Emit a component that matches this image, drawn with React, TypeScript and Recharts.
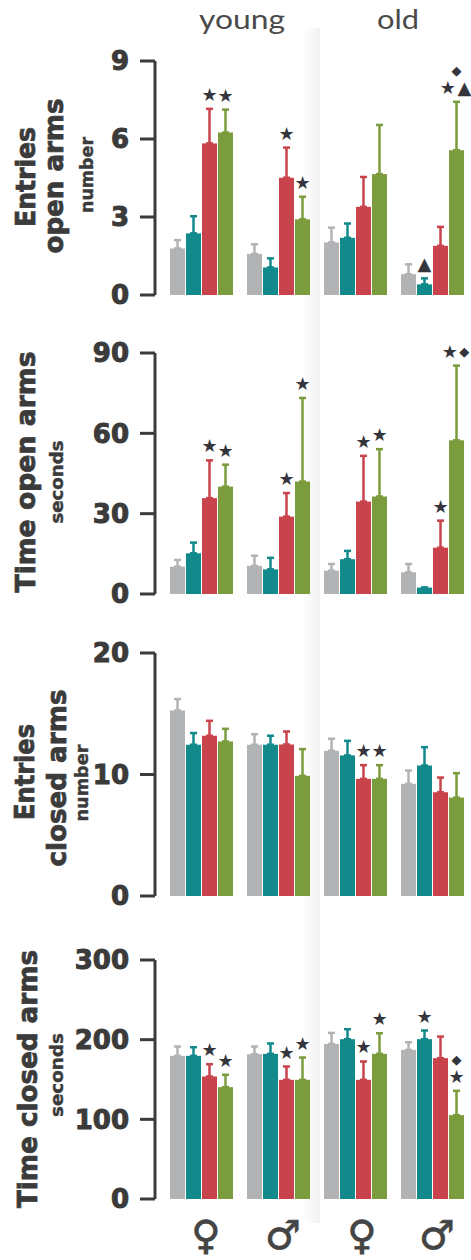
import React from "react";
import { BarChart, Bar, XAxis, YAxis, ErrorBar } from "recharts";

const GROUPS = ["young ♀", "young ♂", "old ♀", "old ♂"];
const COLORS = ["#b1b3b5", "#128a8b", "#c9434d", "#7b9c3d"];
const INK = "#3b3b3b";

// Entries open arms (number)
const entriesOpenMean = [
  [1.79, 2.37, 5.83, 6.25],
  [1.58, 1.06, 4.51, 2.91],
  [2.02, 2.2, 3.39, 4.65],
  [0.8, 0.41, 1.89, 5.57],
];
const entriesOpenErr = [
  [0.32, 0.66, 1.33, 0.88],
  [0.37, 0.35, 1.16, 0.87],
  [0.57, 0.55, 1.15, 1.89],
  [0.38, 0.23, 0.73, 1.86],
];
const entriesOpenMarks = [
  ["", "", "★", "★"],
  ["", "", "★", "★"],
  ["", "", "", ""],
  ["", "▲", "", "◆|★ ▲"],
];

// Time open arms (seconds)
const timeOpenMean = [
  [10.2, 15.2, 35.8, 40.1],
  [10.5, 9.2, 28.9, 42.0],
  [8.7, 13.0, 34.5, 36.4],
  [8.1, 2.4, 17.3, 57.4],
];
const timeOpenErr = [
  [2.5, 4.0, 14.1, 8.2],
  [3.8, 4.3, 8.8, 31.2],
  [2.5, 3.1, 17.1, 17.7],
  [3.1, 0, 10.1, 27.9],
];
const timeOpenMarks = [
  ["", "", "★", "★"],
  ["", "", "★", "★"],
  ["", "", "★", "★"],
  ["", "", "★", "★ ◆"],
];

// Entries closed arms (number)
const entriesClosedMean = [
  [15.27, 12.45, 13.19, 12.72],
  [12.45, 12.45, 12.47, 9.89],
  [11.95, 11.57, 9.64, 9.64],
  [9.23, 10.74, 8.54, 8.1],
];
const entriesClosedErr = [
  [0.94, 0.96, 1.23, 1.04],
  [0.87, 0.74, 1.07, 2.2],
  [0.99, 1.2, 1.13, 1.13],
  [1.1, 1.51, 1.21, 2.01],
];
const entriesClosedMarks = [
  ["", "", "", ""],
  ["", "", "", ""],
  ["", "", "★", "★"],
  ["", "", "", ""],
];

// Time closed arms (seconds)
const timeClosedMean = [
  [179.7, 179.7, 153.8, 140.4],
  [181.8, 182.2, 149.6, 149.6],
  [194.7, 200.6, 149.6, 182.2],
  [187.2, 200.6, 176.8, 105.3],
];
const timeClosedErr = [
  [11.7, 10.8, 15.4, 15.5],
  [9.6, 13, 16.7, 28],
  [13.8, 12.5, 23, 25.9],
  [9.6, 10.9, 27.1, 30.5],
];
const timeClosedMarks = [
  ["", "", "★", "★"],
  ["", "", "★", "★"],
  ["", "", "★", "★"],
  ["", "★", "", "◆|★"],
];

const PANELS = [
  { top: 61, zero: 295, max: 9, ticks: [0, 3, 6, 9], mean: entriesOpenMean, err: entriesOpenErr, marks: entriesOpenMarks },
  { top: 353, zero: 594, max: 90, ticks: [0, 30, 60, 90], mean: timeOpenMean, err: timeOpenErr, marks: timeOpenMarks },
  { top: 653, zero: 896, max: 20, ticks: [0, 10, 20], mean: entriesClosedMean, err: entriesClosedErr, marks: entriesClosedMarks },
  { top: 960, zero: 1199, max: 300, ticks: [0, 100, 200, 300], mean: timeClosedMean, err: timeClosedErr, marks: timeClosedMarks },
];

const TITLES = [
  { text: "Entries", x: 35, cy: 177, len: 100, size: 26 },
  { text: "open arms", x: 63, cy: 176, len: 155, size: 26 },
  { text: "number", x: 93, cy: 175, len: 76, size: 17 },
  { text: "Time open arms", x: 35, cy: 472, len: 241, size: 26 },
  { text: "seconds", x: 63, cy: 482, len: 83, size: 17 },
  { text: "Entries", x: 34, cy: 772, len: 96, size: 26 },
  { text: "closed arms", x: 66, cy: 778, len: 177, size: 26 },
  { text: "number", x: 88, cy: 783, len: 77, size: 17 },
  { text: "Time closed arms", x: 37, cy: 1079, len: 258, size: 26 },
  { text: "seconds", x: 63, cy: 1075, len: 84, size: 17 },
];

const SEX = [
  { s: "♀", x: 206 },
  { s: "♂", x: 283 },
  { s: "♀", x: 362 },
  { s: "♂", x: 437 },
];

const MARGIN_TOP = 26;
const MARGIN_BOTTOM = 16;

function makeShape(i: number) {
  return (props: any) => {
    const { x, y, width, height, fill, payload } = props;
    const v = payload[`v${i}`];
    const err = payload[`err${i}`];
    const mark: string = payload[`m${i}`] || "";
    const pxPer = v > 0 ? height / v : 0;
    const errTop = y - err * pxPer;
    const lines = mark ? mark.split("|") : [];
    return (
      <g>
        <rect x={x} y={y} width={width} height={height} fill={fill} />
        {lines.map((ln, k) => {
          const cy = errTop - 15 - (lines.length - 1 - k) * 17;
          return (
            <text
              key={k}
              x={x + width / 2 - (ln.length > 1 ? 1 : 0)}
              y={cy}
              textAnchor="middle"
              dominantBaseline="central"
              fontFamily="DejaVu Sans"
              fill="#35353d"
            >
              {ln.split("").map((c, j) => (
                <tspan key={j} fontSize={c === "◆" ? 13 : c === " " ? 5 : 18}>
                  {c}
                </tspan>
              ))}
            </text>
          );
        })}
      </g>
    );
  };
}

function Panel({ p }: { p: (typeof PANELS)[number] }) {
  const data = GROUPS.map((g, gi) => {
    const row: any = { group: g };
    for (let i = 0; i < 4; i++) {
      row[`v${i}`] = p.mean[gi][i];
      row[`err${i}`] = p.err[gi][i];
      row[`e${i}`] = [0, p.err[gi][i]];
      row[`m${i}`] = p.marks[gi][i];
    }
    return row;
  });
  const plotH = p.zero - p.top;
  return (
    <div style={{ position: "absolute", left: 0, top: p.top - MARGIN_TOP }}>
      <BarChart
        width={471}
        height={plotH + MARGIN_TOP + MARGIN_BOTTOM}
        data={data}
        margin={{ top: MARGIN_TOP, right: 0, bottom: MARGIN_BOTTOM, left: 0 }}
        barGap={1}
      >
        <XAxis dataKey="group" hide padding={{ left: 8, right: 0 }} />
        <YAxis
          type="number"
          domain={[0, p.max]}
          ticks={p.ticks}
          interval={0}
          width={155}
          tickSize={15}
          tickMargin={11}
          axisLine={{ stroke: INK, strokeWidth: 3 }}
          tickLine={{ stroke: INK, strokeWidth: 3 }}
          tick={{
            fontFamily: "DejaVu Sans",
            fontWeight: "bold",
            fontSize: 26,
            fill: INK,
            stroke: INK,
            strokeWidth: 1,
          }}
        />
        {[0, 1, 2, 3].map((i) => (
          <Bar
            key={i}
            dataKey={`v${i}`}
            fill={COLORS[i]}
            barSize={15}
            isAnimationActive={false}
            shape={makeShape(i)}
          >
            <ErrorBar
              dataKey={`e${i}`}
              direction="y"
              width={3.5}
              strokeWidth={2.5}
              stroke={COLORS[i]}
            />
          </Bar>
        ))}
      </BarChart>
    </div>
  );
}

export default function App() {
  return (
    <div
      style={{
        position: "absolute",
        left: 0,
        top: 0,
        width: 471,
        height: 1260,
        overflow: "hidden",
        background: "#fff",
      }}
    >
      <div
        style={{
          position: "absolute",
          left: 302,
          top: 28,
          width: 18,
          height: 1195,
          background: "linear-gradient(to right, rgba(0,0,0,0), rgba(0,0,0,0.05))",
        }}
      />
      {PANELS.map((p, k) => (
        <Panel key={k} p={p} />
      ))}
      <svg
        width={471}
        height={1260}
        style={{ position: "absolute", left: 0, top: 0, pointerEvents: "none" }}
      >
        <text x={242} y={29} textAnchor="middle" fontFamily="Lato" fontSize={26} fill="#4a4a4a" textLength={86} lengthAdjust="spacingAndGlyphs">
          young
        </text>
        <text x={398} y={29} textAnchor="middle" fontFamily="Lato" fontSize={26} fill="#4a4a4a" textLength={42} lengthAdjust="spacingAndGlyphs">
          old
        </text>
        {TITLES.map((t, k) => (
          <text
            key={k}
            x={t.x}
            y={t.cy}
            transform={`rotate(-90, ${t.x}, ${t.cy})`}
            textAnchor="middle"
            fontFamily="DejaVu Sans"
            fontWeight="bold"
            fontSize={t.size}
            fill={INK}
            stroke={INK}
            strokeWidth={t.size > 20 ? 0.8 : 0.4}
            textLength={t.len}
            lengthAdjust="spacingAndGlyphs"
          >
            {t.text}
          </text>
        ))}
        {SEX.map((s, k) => (
          <text
            key={k}
            x={s.x}
            y={1235}
            textAnchor="middle"
            dominantBaseline="central"
            fontFamily="DejaVu Sans"
            fontSize={40}
            fill="#444"
            stroke="#444"
            strokeWidth={0.8}
          >
            {s.s}
          </text>
        ))}
      </svg>
    </div>
  );
}
